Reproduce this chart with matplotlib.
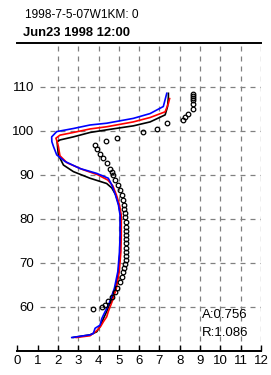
import matplotlib
matplotlib.use("Agg")
import matplotlib.pyplot as plt
from matplotlib import font_manager

# ---- data ----
title1 = "1998-7-5-07W1KM: 0"
title2 = "Jun23 1998 12:00"
xticks = [0, 1, 2, 3, 4, 5, 6, 7, 8, 9, 10, 11, 12]
yticks = [60, 70, 80, 90, 100, 110]
stats = ["A:0.756", "R:1.086"]

blue_h = [53.0, 53.6, 53.9, 55.1, 55.8, 57.3, 58.1, 59.6, 61.1, 64.2, 68.0, 72.5, 76.3, 80.8, 83.1,
          85.4, 87.7, 89.2, 90.3, 91.4, 93.0, 94.5, 96.4, 97.5, 98.6, 99.8, 100.5, 101.3, 101.7,
          102.8, 103.9, 105.5, 108.5]
blue_x = [2.68, 3.58, 3.74, 3.83, 4.07, 4.16, 4.24, 4.40, 4.55, 4.78, 4.95, 5.03, 5.06, 5.06, 4.98,
          4.83, 4.65, 4.48, 3.91, 3.09, 2.35, 1.94, 1.78, 1.70, 1.69, 1.94, 2.76, 3.58, 4.40,
          5.71, 6.54, 7.19, 7.36]

red_h = [53.0, 53.4, 54.5, 55.5, 56.6, 57.7, 58.9, 61.3, 64.2, 68.0, 72.5, 76.3, 80.8, 83.1,
         85.4, 87.5, 88.8, 90.0, 91.2, 92.7, 94.3, 96.4, 97.5, 98.3, 99.0, 99.6, 100.4, 100.9,
         102.0, 103.0, 104.3, 106.2, 107.3]
red_x = [2.90, 3.58, 3.90, 4.10, 4.24, 4.40, 4.48, 4.68, 4.88, 5.02, 5.10, 5.12, 5.12, 5.03,
         4.88, 4.70, 4.45, 3.95, 3.20, 2.45, 2.10, 2.02, 1.96, 1.90, 2.10, 2.76, 3.58, 4.40,
         5.71, 6.54, 7.28, 7.44, 7.50]

black_h = [53.0, 53.6, 54.3, 55.5, 57.3, 58.9, 61.2, 64.2, 68.0, 72.5, 76.3, 80.8, 83.1, 85.4,
           87.0, 88.0, 89.2, 90.7, 92.2, 94.5, 96.4, 97.5, 97.9, 98.6, 99.6, 100.2,
           101.1, 102.0, 103.6, 105.5, 107.7, 108.5]
black_x = [2.75, 3.58, 3.91, 4.07, 4.24, 4.40, 4.60, 4.84, 4.98, 5.06, 5.08, 5.08, 5.00, 4.85,
           4.65, 4.40, 3.58, 2.76, 2.27, 2.02, 1.98, 1.96, 2.10, 2.76, 3.58, 4.40,
           5.71, 6.54, 7.28, 7.40, 7.44, 7.44]

obs_x = [3.75, 4.16, 4.32, 4.48, 4.65, 4.81, 4.90, 5.06, 5.14, 5.20, 5.26, 5.31, 5.33, 5.36,
         5.36, 5.37, 5.36, 5.37, 5.36, 5.36, 5.36, 5.33, 5.31, 5.28, 5.26, 5.26, 5.22, 5.14,
         5.06, 4.98, 4.81, 4.73, 4.65, 4.57, 4.40, 4.24, 4.07, 3.91, 3.83, 4.37, 4.90, 6.21,
         6.87, 7.39, 8.15, 8.26, 8.43, 8.67, 8.67, 8.67, 8.67, 8.67, 8.67]
obs_h = [59.5, 60.0, 60.4, 61.3, 62.3, 63.4, 64.3, 65.7, 66.8, 67.8, 68.7, 69.7, 70.6, 71.5,
         72.5, 73.4, 74.4, 75.3, 76.3, 77.2, 78.2, 79.3, 80.5, 81.4, 82.3, 83.1, 84.2, 85.4,
         86.5, 87.7, 88.8, 89.9, 90.7, 91.4, 92.6, 93.7, 94.8, 95.8, 96.7, 97.7, 98.4, 99.6,
         100.5, 101.8, 102.4, 103.2, 103.9, 104.9, 106.1, 107.0, 107.5, 108.0, 108.4]

# ---- fonts ----
names = {f.name for f in font_manager.fontManager.ttflist}
fam = ["Liberation Sans Narrow", "Liberation Sans", "DejaVu Sans"]
fam = [f for f in fam if f in names] or ["DejaVu Sans"]
plt.rcParams["font.family"] = fam

fig = plt.figure(figsize=(2.71, 3.75), dpi=100)
ax = fig.add_axes([0.064, 0.0648, 0.899, 0.8213])
ax.set_xlim(0, 12)
ax.set_ylim(50, 120)

grid_kw = dict(color="#808080", lw=0.9, linestyles=(0, (4, 4)), zorder=0)
ax.hlines(yticks, 1.1, 12, **grid_kw)
ax.vlines(xticks[2:], 50, 120, **grid_kw)

lw = 1.2
ax.plot(black_x, black_h, color="black", lw=lw, zorder=3)
ax.plot(red_x, red_h, color="#ff0000", lw=lw, zorder=4)
ax.plot(blue_x, blue_h, color="#0000ff", lw=lw, zorder=5)
ax.plot(obs_x, obs_h, ls="none", marker="o", ms=3.3, mfc="none", mec="black", mew=0.9, zorder=6)

for s in ["left", "right"]:
    ax.spines[s].set_visible(False)
ax.spines["bottom"].set_linewidth(1.4)
ax.spines["top"].set_linewidth(1.4)

ax.set_xticks(xticks)
ax.set_xticklabels([str(v) for v in xticks], fontsize=9.5)
ax.tick_params(axis="x", direction="in", length=4, width=1.0, pad=3)
ax.set_yticks(yticks)
ax.set_yticklabels([str(v) for v in yticks], fontsize=9.5)
ax.tick_params(axis="y", length=0, pad=-12)

ax.text(9.08, 58.2, stats[0], fontsize=9.5, ha="left", va="center")
ax.text(9.08, 54.1, stats[1], fontsize=9.5, ha="left", va="center")

fig.text(25 / 271, 1 - 15 / 375, title1, fontsize=8.6, ha="left", va="center")
fig.text(23 / 271, 1 - 33 / 375, title2, fontsize=9.4, fontweight="bold", ha="left", va="center")

fig.savefig("out.png", dpi=100)
